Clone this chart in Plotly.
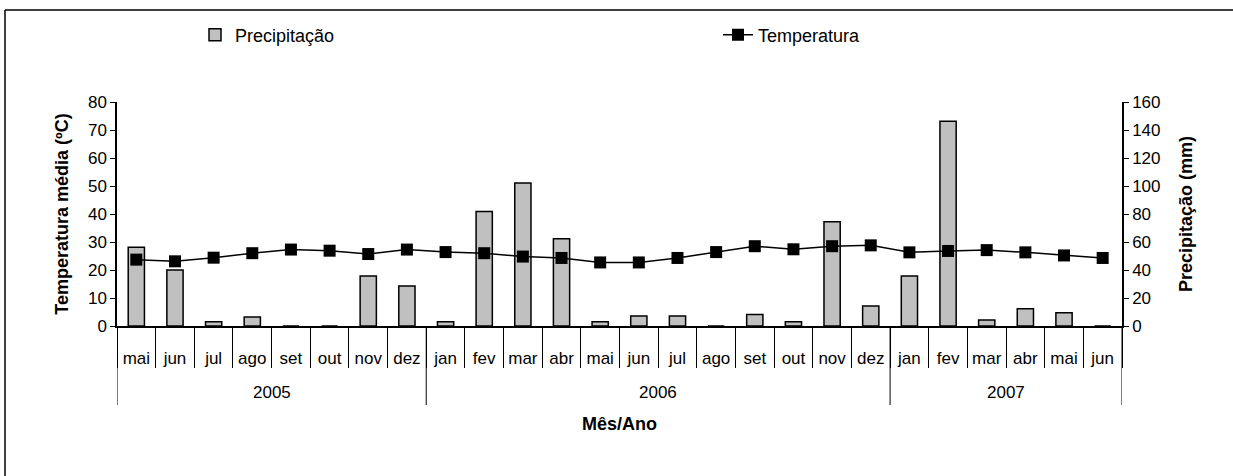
import plotly.graph_objects as go

# ---- data ----
years = ["2005"] * 8 + ["2006"] * 12 + ["2007"] * 6
months = ["mai", "jun", "jul", "ago", "set", "out", "nov", "dez",
          "jan", "fev", "mar", "abr", "mai", "jun", "jul", "ago", "set", "out", "nov", "dez",
          "jan", "fev", "mar", "abr", "mai", "jun"]
precipitacao = [56.2, 40.0, 3.1, 6.4, 0, 0, 35.7, 28.6,
                3.0, 81.7, 102.1, 62.4, 3.0, 7.1, 7.1, 0, 8.3, 3.0, 74.5, 14.3,
                35.7, 146.2, 4.3, 12.4, 9.5, 0]
temperatura = [23.7, 23.1, 24.4, 26.0, 27.3, 26.9, 25.7, 27.3,
               26.4, 26.0, 24.8, 24.3, 22.7, 22.7, 24.3, 26.4, 28.5, 27.4, 28.5, 28.8,
               26.3, 26.8, 27.1, 26.3, 25.2, 24.3]

W, H = 1233, 476
ML, MR, MT, MB = 117, 111, 102, 150
PW, PH = W - ML - MR, H - MT - MB

def px_x(x):
    return (x - ML) / PW

def px_y(y):
    return (H - MB - y) / PH

FONT = "Arial, 'Liberation Sans', sans-serif"

n = len(months)
xpos = list(range(n))

# year groups derived from the data
groups = []
start = 0
for i in range(1, n + 1):
    if i == n or years[i] != years[start]:
        groups.append((years[start], start, i - 1))
        start = i

frame = dict(color="#000000", width=1.5)
shapes = [
    dict(type="line", xref="paper", yref="paper", x0=px_x(5), x1=px_x(W + 60),
         y0=px_y(10), y1=px_y(10), line=frame, layer="below"),
    dict(type="line", xref="paper", yref="paper", x0=px_x(5), x1=px_x(5),
         y0=px_y(10), y1=px_y(H + 60), line=frame, layer="below"),
]
annotations = []
bounds = sorted(set([g[1] - 0.5 for g in groups] + [g[2] + 0.5 for g in groups]))
for b in bounds:
    shapes.append(dict(type="line", xref="x", yref="paper", x0=b, x1=b,
                       y0=0, y1=px_y(405), line=dict(color="#000000", width=1)))
for name, a, b in groups:
    annotations.append(dict(x=(a + b) / 2, y=px_y(392), xref="x", yref="paper",
                            text=name, showarrow=False, yanchor="middle",
                            font=dict(size=17)))

fig = go.Figure()
fig.add_trace(go.Bar(
    x=xpos, y=precipitacao, name="Precipitação",
    marker=dict(color="#C0C0C0", line=dict(color="#000000", width=1.5)),
    yaxis="y", legend="legend",
))
fig.add_trace(go.Scatter(
    x=xpos, y=temperatura, name="Temperatura",
    mode="lines+markers",
    line=dict(color="#000000", width=1.5),
    marker=dict(symbol="square", size=12, color="#000000"),
    yaxis="y2", legend="legend2",
))

fig.update_layout(
    width=W, height=H,
    margin=dict(l=ML, r=MR, t=MT, b=MB),
    paper_bgcolor="white", plot_bgcolor="white",
    font=dict(family=FONT, size=17, color="#000000"),
    bargap=0.58,
    xaxis=dict(
        range=[-0.5, n - 0.5],
        tickmode="array", tickvals=xpos, ticktext=months, tickangle=0,
        ticks="", ticklabelstandoff=16,
        minor=dict(tickmode="array", tickvals=[i - 0.5 for i in range(n + 1)],
                   ticks="outside", ticklen=40, tickcolor="#000000", tickwidth=1,
                   showgrid=False),
        showline=True, linecolor="#000000", linewidth=1.5,
        showgrid=False, zeroline=False,
        tickfont=dict(size=17),
        title=dict(text="<b>Mês/Ano</b>", font=dict(size=18), standoff=50),
    ),
    yaxis=dict(
        side="right", range=[0, 160], dtick=20,
        showline=True, linecolor="#000000", linewidth=1.5,
        ticks="outside", ticklen=5, tickcolor="#000000",
        showgrid=False, zeroline=False,
        title=dict(text="<b>Precipitação (mm)</b>", font=dict(size=18), standoff=20),
    ),
    yaxis2=dict(
        side="left", overlaying="y", range=[0, 80], dtick=10,
        showline=True, linecolor="#000000", linewidth=1.5,
        ticks="outside", ticklen=5, tickcolor="#000000",
        showgrid=False, zeroline=False,
        title=dict(text="<b>Temperatura média (ºC)</b>", font=dict(size=18), standoff=15),
    ),
    legend=dict(x=px_x(195), y=px_y(35), xanchor="left", yanchor="middle",
                orientation="h", font=dict(size=18), bgcolor="rgba(0,0,0,0)"),
    legend2=dict(x=px_x(718), y=px_y(35), xanchor="left", yanchor="middle",
                 orientation="h", font=dict(size=18), bgcolor="rgba(0,0,0,0)"),
    shapes=shapes,
    annotations=annotations,
    showlegend=True,
)

fig.write_html("out.html")
